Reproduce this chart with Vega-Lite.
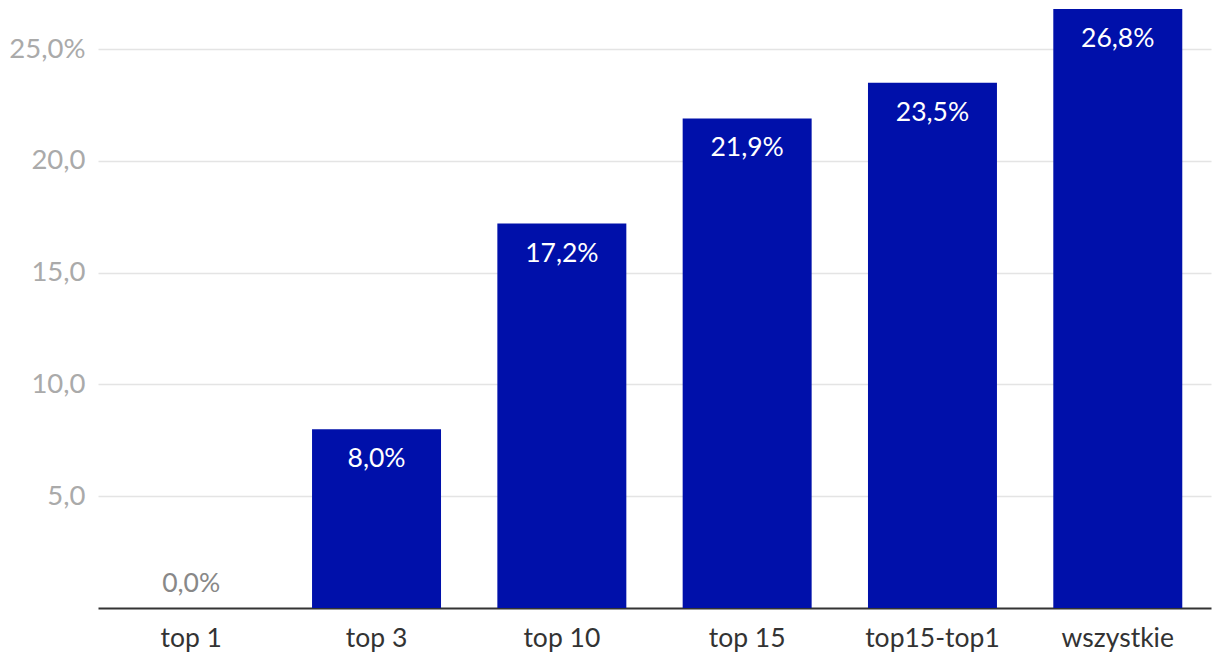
{
  "$schema": "https://vega.github.io/schema/vega-lite/v6.json",
  "autosize": {"type": "none"},
  "width": 1113,
  "height": 608,
  "padding": {"left": 98, "top": 0, "right": 9, "bottom": 62},
  "background": "white",
  "config": {"view": {"stroke": null}, "font": "Lato"},
  "data": {"values": [
    {"cat": "top 1", "value": 0.0, "label": "0,0%"},
    {"cat": "top 3", "value": 8.0, "label": "8,0%"},
    {"cat": "top 10", "value": 17.2, "label": "17,2%"},
    {"cat": "top 15", "value": 21.9, "label": "21,9%"},
    {"cat": "top15-top1", "value": 23.5, "label": "23,5%"},
    {"cat": "wszystkie", "value": 26.8, "label": "26,8%"}
  ]},
  "encoding": {
    "x": {"field": "cat", "type": "nominal", "sort": null,
      "scale": {"paddingInner": 0.304, "paddingOuter": 0.155},
      "axis": {"title": null, "labelAngle": 0, "labelFontSize": 26.5, "labelColor": "#333333", "labelFont": "Lato", "ticks": false, "domainColor": "#333333", "domainWidth": 2, "labelPadding": 17, "grid": false}},
    "y": {"field": "value", "type": "quantitative",
      "scale": {"domain": [0, 27.2], "nice": false, "zero": true},
      "axis": {"title": null, "values": [5, 10, 15, 20, 25], "labelExpr": "datum.value == 25 ? '25,0%' : replace(format(datum.value, '.1f'), '.', ',')", "labelFontSize": 27.5, "labelColor": "#aaaaaa", "labelFont": "Lato", "ticks": false, "domain": false, "labelPadding": 13, "gridColor": "#e4e4e4", "gridWidth": 1.5}}
  },
  "layer": [
    {"mark": {"type": "bar", "color": "#0010AA"}},
    {"transform": [{"filter": "datum.value > 0"}],
     "mark": {"type": "text", "baseline": "top", "dy": 17, "fontSize": 26.5, "color": "white", "font": "Lato"},
     "encoding": {"text": {"field": "label"}}},
    {"transform": [{"filter": "datum.value == 0"}],
     "mark": {"type": "text", "baseline": "bottom", "dy": -10, "fontSize": 26.5, "color": "#888888", "font": "Lato"},
     "encoding": {"text": {"field": "label"}}}
  ]
}
